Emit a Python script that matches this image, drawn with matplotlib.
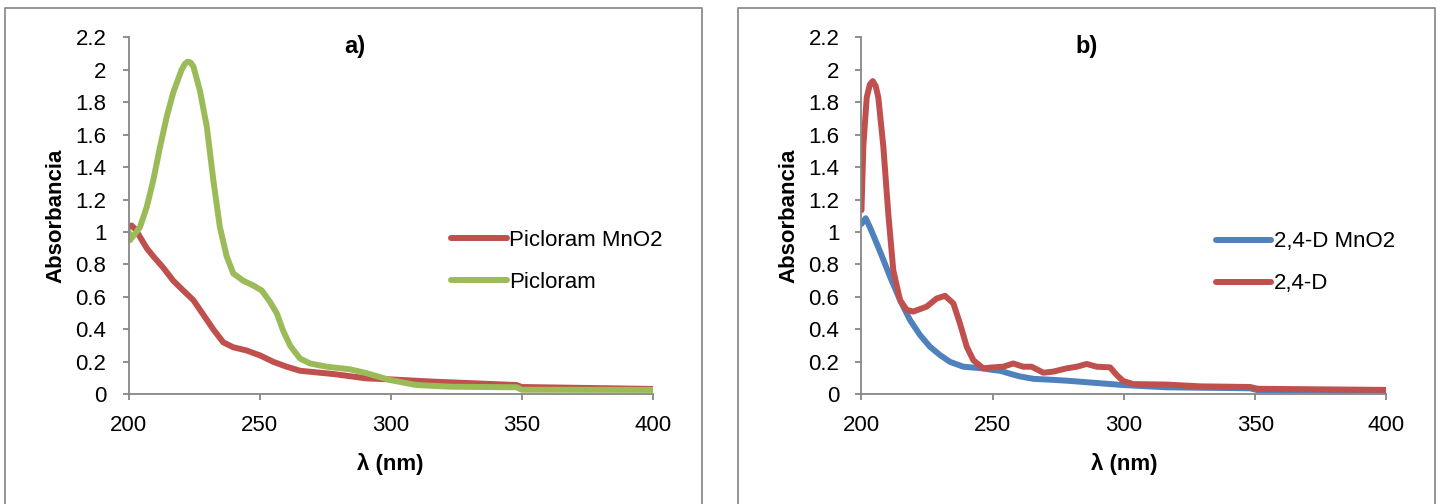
import matplotlib
matplotlib.use("Agg")
import matplotlib.pyplot as plt
from matplotlib.ticker import FuncFormatter
from matplotlib.lines import Line2D

plt.rcParams['font.family'] = ['Liberation Sans', 'DejaVu Sans']

# a) Picloram (leído de la figura)
wl_pic = [200, 200.5, 202.4, 204.3, 206.9, 209.4, 211.9, 214.5, 217, 220.2, 221.4, 222.5,
          223.6, 224.7, 227.2, 229.8, 232.3, 234.8, 237.4, 239.9, 243.7, 247.6, 250.8,
          253.9, 256.5, 259, 261.6, 265.4, 269.2, 272.4, 275.6, 284.5, 290.8, 299.7,
          309.9, 322.6, 348.1, 350, 400]
abs_pic = [1.00, 0.95, 0.99, 1.03, 1.155, 1.32, 1.52, 1.71, 1.86, 2.00, 2.035, 2.05,
           2.045, 2.02, 1.87, 1.65, 1.32, 1.03, 0.85, 0.745, 0.70, 0.67, 0.64,
           0.57, 0.50, 0.39, 0.30, 0.22, 0.19, 0.18, 0.17, 0.154, 0.13, 0.088,
           0.057, 0.047, 0.043, 0.028, 0.027]

wl_pic_mno2 = [200, 201.1, 202.4, 204.3, 206.9, 209.4, 213.2, 217, 220.8, 224.7, 228.5,
               232.3, 236.1, 239.9, 245, 250.1, 255.2, 260.3, 265.4, 273, 278.1,
               290.8, 299.7, 316.3, 348.1, 350, 400]
abs_pic_mno2 = [1.03, 1.04, 1.02, 0.97, 0.90, 0.85, 0.78, 0.70, 0.64, 0.58, 0.49,
                0.40, 0.32, 0.29, 0.27, 0.24, 0.20, 0.17, 0.145, 0.133, 0.125,
                0.098, 0.092, 0.078, 0.057, 0.045, 0.033]

# b) 2,4-D
wl_24d = [200, 200.7, 202, 203.2, 204.3, 205.4, 206.4, 208.3, 210.2, 212.1, 214.7, 217.2,
          219.7, 224.8, 228.6, 231.8, 235, 237.5, 240.1, 242.6, 246.4, 250.2, 254,
          257.8, 261.6, 264.8, 269.3, 273.1, 278.2, 282, 285.8, 289.6, 294.7, 297.2,
          299.7, 303.5, 316.3, 329, 348, 351, 400]
abs_24d = [1.135, 1.53, 1.83, 1.91, 1.93, 1.90, 1.83, 1.53, 1.115, 0.765, 0.58, 0.52,
           0.51, 0.54, 0.59, 0.607, 0.56, 0.437, 0.293, 0.21, 0.16, 0.166, 0.17,
           0.19, 0.17, 0.17, 0.133, 0.14, 0.16, 0.17, 0.187, 0.17, 0.166, 0.119,
           0.082, 0.063, 0.06, 0.049, 0.045, 0.034, 0.027]

wl_24d_mno2 = [200, 201.6, 203.2, 205.8, 208.3, 210.9, 214.7, 218.5, 222.3, 226.1,
               229.9, 233.7, 238.8, 246, 250, 252.8, 257, 260.4, 265.6, 271.8, 278.2,
               290.9, 299.7, 316.3, 348, 351, 400]
abs_24d_mno2 = [1.05, 1.085, 1.03, 0.93, 0.83, 0.724, 0.58, 0.457, 0.365, 0.293,
                0.242, 0.20, 0.17, 0.16, 0.15, 0.145, 0.125, 0.11, 0.095, 0.09, 0.084,
                0.068, 0.057, 0.043, 0.037, 0.025, 0.023]

xticks = [200, 250, 300, 350, 400]
yticks = [0, 0.2, 0.4, 0.6, 0.8, 1.0, 1.2, 1.4, 1.6, 1.8, 2.0, 2.2]

RED = '#C0504D'
GREEN = '#9BBB59'
BLUE = '#4F81BD'
GRAY = '#868686'
LW = 4.3

fig = plt.figure(figsize=(14.42, 5.04), dpi=100)

# marcos de cada gráfico (estilo Excel)
for x0, x1 in [(4.7, 702), (737.7, 1435.3)]:
    xa, xb = x0 / 1442, x1 / 1442
    yt = 1 - 8.3 / 504
    fig.add_artist(Line2D([xa, xa, xb, xb], [-0.05, yt, yt, -0.05],
                          transform=fig.transFigure, color='#8c8c8c', lw=1.3))


def estilo(ax, titulo, tx):
    ax.set_xlim(200, 400)
    ax.set_ylim(0, 2.2)
    ax.set_xticks(xticks)
    ax.set_yticks(yticks)
    ax.yaxis.set_major_formatter(FuncFormatter(lambda v, p: f"{v:g}"))
    for s in ['top', 'right']:
        ax.spines[s].set_visible(False)
    for s in ['left', 'bottom']:
        ax.spines[s].set_color(GRAY)
        ax.spines[s].set_linewidth(1.3)
    ax.tick_params(axis='both', direction='out', length=4, width=1.3, color=GRAY,
                   labelsize=16)
    ax.tick_params(axis='y', pad=12)
    ax.tick_params(axis='x', pad=11)
    ax.set_xlabel("λ (nm)", fontsize=16, fontweight='bold')
    ax.set_ylabel("Absorbancia", fontsize=16, fontweight='bold')
    ax.xaxis.set_label_coords(0.5, -0.165)
    ax.yaxis.set_label_coords(-0.118, 0.5)
    ax.text(tx, 0.973, titulo, transform=ax.transAxes, ha='center', va='center',
            fontsize=17, fontweight='bold')


kw = dict(lw=LW, solid_joinstyle='round', solid_capstyle='round')
leg_kw = dict(loc='center left', frameon=False, fontsize=16, handlelength=2.5,
              handletextpad=0.1, labelspacing=0.95, borderaxespad=0, borderpad=0)

ax1 = fig.add_axes([128.7 / 1442, 109.7 / 504, 524 / 1442, 357 / 504])
ax1.plot(wl_pic_mno2, abs_pic_mno2, color=RED, label='Picloram MnO2', **kw)
ax1.plot(wl_pic, abs_pic, color=GREEN, label='Picloram', **kw)
estilo(ax1, "a)", 0.432)
ax1.legend(bbox_to_anchor=(0.615, 0.372), **leg_kw)

ax2 = fig.add_axes([861.5 / 1442, 109.7 / 504, 525 / 1442, 357 / 504])
ax2.plot(wl_24d_mno2, abs_24d_mno2, color=BLUE, label='2,4-D MnO2', **kw)
ax2.plot(wl_24d, abs_24d, color=RED, label='2,4-D', **kw)
estilo(ax2, "b)", 0.4295)
ax2.legend(bbox_to_anchor=(0.675, 0.368), **leg_kw)

plt.savefig("out.png", dpi=100)
